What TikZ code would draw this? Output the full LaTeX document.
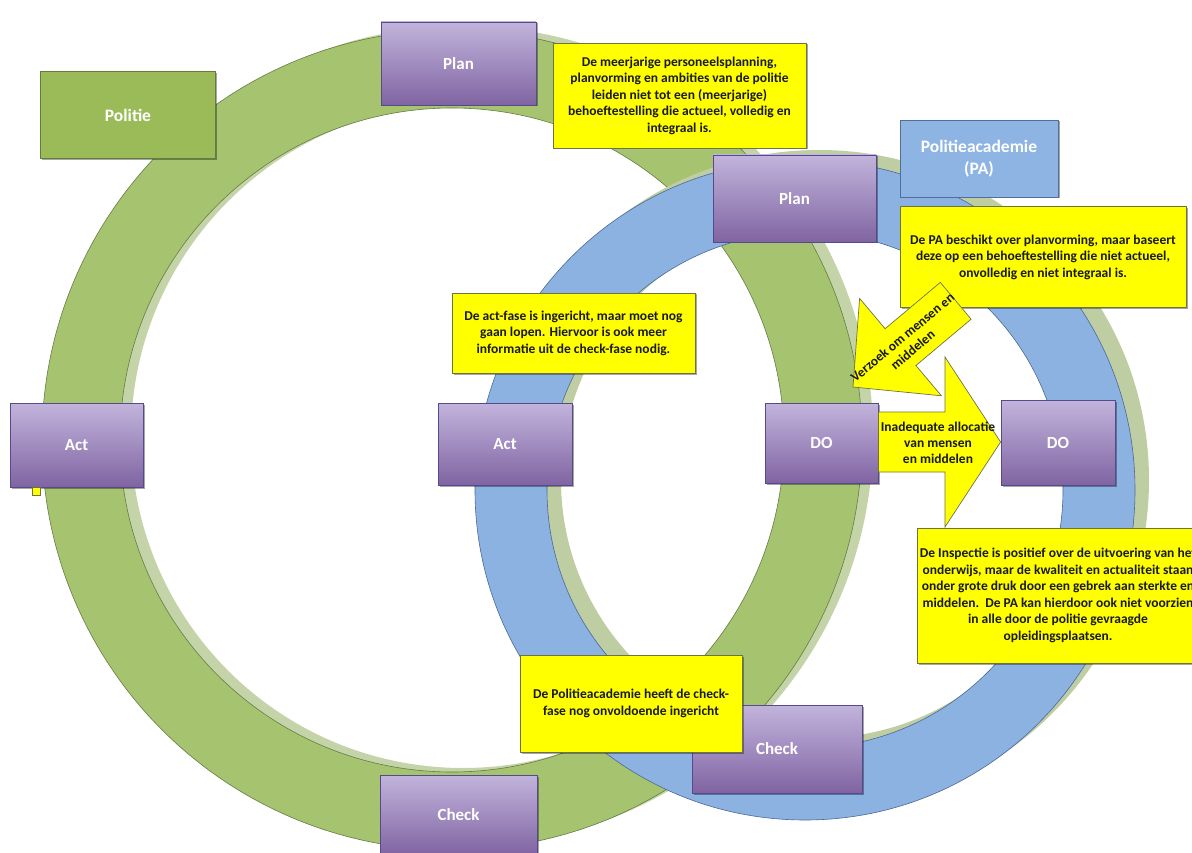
\documentclass[tikz,border=0pt]{standalone}
\usepackage{fontspec}
\setmainfont{Carlito}
\usetikzlibrary{shadows}
\definecolor{ringgreen}{RGB}{166,195,112}
\definecolor{ringgreenedge}{RGB}{100,125,70}
\definecolor{ringblue}{RGB}{140,178,225}
\definecolor{ringblueedge}{RGB}{75,105,150}
\definecolor{ringshadow}{RGB}{190,205,162}
\definecolor{greenshadow}{RGB}{196,212,168}
\definecolor{ptop}{RGB}{194,180,220}
\definecolor{pbot}{RGB}{128,100,162}
\definecolor{pedge}{RGB}{85,75,140}
\definecolor{polgreen}{RGB}{155,187,89}
\definecolor{polgreenedge}{RGB}{100,125,60}
\definecolor{pablue}{RGB}{142,180,227}
\definecolor{pablueedge}{RGB}{80,110,150}
\definecolor{yfill}{RGB}{255,255,0}
\definecolor{yedge}{RGB}{110,115,70}
\definecolor{ytext}{RGB}{25,25,25}
\begin{document}
\begin{tikzpicture}[x=1pt,y=-1pt,
  boxshadow/.style={drop shadow={shadow xshift=1.5pt,shadow yshift=-1.5pt,opacity=.35,fill=black}},
  pbox/.style={draw=pedge, line width=0.8pt, top color=ptop, bottom color=pbot,
    text=white, font=\bfseries\fontsize{17}{21}\selectfont, inner sep=0pt, boxshadow},
  ybox/.style={draw=yedge, line width=0.7pt, fill=yfill, text=ytext,
    font=\bfseries\fontsize{13.5}{16.5}\selectfont, align=center, inner sep=0pt, boxshadow},
  orgbox/.style={line width=0.8pt, text=white, font=\bfseries\fontsize{17.5}{22}\selectfont,
    align=center, inner sep=0pt, boxshadow},
  blockarrow/.style={draw=yedge, line width=0.7pt, fill=yfill},
  atext/.style={text=ytext, font=\bfseries\fontsize{13.5}{16}\selectfont, align=center, inner sep=0pt}
]
\useasboundingbox (0,0) rectangle (1192,853);
\fill[white] (0,0) rectangle (1192,853);

% ring centres
\coordinate (cg) at (452,440);
\coordinate (cgs) at (463,436);
\coordinate (cb) at (805,490);
\coordinate (cbs) at (819,480);

% green ring (Politie)
\fill[greenshadow, even odd rule] (cgs) circle[radius=410pt] (cgs) circle[radius=332pt];
\filldraw[fill=ringgreen, draw=ringgreenedge, line width=0.6pt, even odd rule]
  (cg) circle[radius=410pt] (cg) circle[radius=332pt];

% blue ring (PA)
\fill[ringshadow, even odd rule] (cbs) circle[radius=330pt] (cbs) circle[radius=258pt];
\filldraw[fill=ringblue, draw=ringblueedge, line width=0.6pt, even odd rule]
  (cb) circle[radius=330pt] (cb) circle[radius=258pt];

% organisation boxes
\node[orgbox, draw=polgreenedge, fill=polgreen, minimum width=175pt, minimum height=87pt] (politie) at (128,115) {Politie};
\node[orgbox, draw=pablueedge, fill=pablue, minimum width=158pt, minimum height=77pt] (pa) at (979,158.5) {Politieacademie\\(PA)};

% phase boxes
\node[pbox, minimum width=155pt, minimum height=83pt] (planG) at (458.5,63.5) {Plan};
\node[pbox, minimum width=163pt, minimum height=87pt] (planB) at (794.5,198.5) {Plan};
\node[pbox, minimum width=133pt, minimum height=84pt] (actG) at (76.5,445) {Act};
\node[pbox, minimum width=134pt, minimum height=82pt] (actB) at (505,444) {Act};
\node[pbox, minimum width=113pt, minimum height=80pt] (doL) at (821.5,443) {DO};
\node[pbox, minimum width=114pt, minimum height=85pt] (doR) at (1058,442.5) {DO};
\node[pbox, minimum width=170pt, minimum height=88pt] (checkB) at (777,749) {Check};
\node[pbox, minimum width=157pt, minimum height=80pt] (checkG) at (458.5,815) {Check};

% small yellow marker
\node[draw=yedge, fill=yfill, line width=0.5pt, minimum size=8pt, inner sep=0pt] (marker) at (36.5,491) {};

% yellow text boxes
\node[ybox, minimum width=253pt, minimum height=105pt] (y1) at (679.5,95.5)
  {De meerjarige personeelsplanning,\\planvorming en ambities van de politie\\leiden niet tot een (meerjarige)\\behoeftestelling die actueel, volledig en\\integraal is.};
\node[ybox, minimum width=286pt, minimum height=101pt] (y2) at (1043,257)
  {De PA beschikt over planvorming, maar baseert\\deze op een behoeftestelling die niet actueel,\\onvolledig en niet integraal is.};
\node[ybox, minimum width=243pt, minimum height=80pt] (y3) at (573.5,333)
  {De act-fase is ingericht, maar moet nog\\gaan lopen. Hiervoor is ook meer\\informatie uit de check-fase nodig.};
\node[ybox, minimum width=282pt, minimum height=135pt] (y4) at (1058,595.5)
  {De Inspectie is positief over de uitvoering van het\\onderwijs, maar de kwaliteit en actualiteit staan\\onder grote druk door een gebrek aan sterkte en\\middelen.\ \ De PA kan hierdoor ook niet voorzien\\in alle door de politie gevraagde\\opleidingsplaatsen.};
\node[ybox, minimum width=222pt, minimum height=97pt] (y5) at (631,703.5)
  {De Politieacademie heeft de check-\\fase nog onvoldoende ingericht};

% block arrows
\draw[blockarrow] (853,387) -- (941.4,395.8) -- (915.9,365.5) -- (971.1,319.2)
  -- (940.3,282.4) -- (885.1,328.7) -- (859.6,298.4) -- cycle;
\node[atext, rotate=40] (t1) at (907.5,343.5) {Verzoek om mensen en\\middelen};

\draw[blockarrow] (doL.east |- 0,412) -- (945,412) -- (945,357) -- (doR.west |- 0,442)
  -- (945,527) -- (945,472) -- (doL.east |- 0,472) -- cycle;
\node[atext] (t2) at (938,442.5) {Inadequate allocatie\\van mensen\\en middelen};
\end{tikzpicture}
\end{document}
